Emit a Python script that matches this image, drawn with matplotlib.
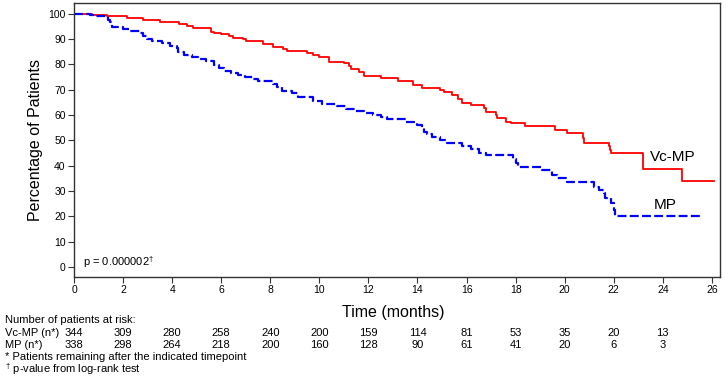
import matplotlib
matplotlib.use('Agg')
import matplotlib.pyplot as plt
import matplotlib.transforms as mtransforms

plt.rcParams['font.family'] = ['Liberation Sans', 'DejaVu Sans']
plt.rcParams['mathtext.fontset'] = 'custom'
plt.rcParams['mathtext.rm'] = 'Liberation Sans'

# Vc-MP arm (step curve, % of patients)
t_vcmp = [0, 0.72, 1.33, 2.15, 2.8, 3.5, 4.3, 4.6, 4.85, 5.6, 5.7, 6.0, 6.3, 6.5,
          6.9, 7.0, 7.7, 8.1, 8.5, 8.7, 9.5, 9.75, 10.0, 10.4, 11.0, 11.2, 11.3,
          11.6, 11.8, 12.5, 13.2, 13.8, 14.2, 14.9, 15.1, 15.4, 15.65, 15.8, 16.2,
          16.7, 16.8, 17.2, 17.25, 17.6, 17.8, 18.4, 19.6, 20.1, 20.75, 20.8,
          21.8, 21.85, 21.9, 23.2, 24.8, 26.1]
s_vcmp = [100, 99.5, 99.2, 98.4, 97.6, 96.8, 96.0, 95.3, 94.5, 93.0, 92.4, 92.0, 91.3, 90.4,
          89.9, 89.1, 88.1, 87.1, 86.3, 85.4, 84.7, 83.7, 83.1, 81.0, 80.6, 79.3, 78.3,
          77.2, 75.5, 74.6, 73.3, 71.7, 70.9, 70.0, 69.0, 68.1, 66.3, 64.9, 64.0,
          62.7, 61.4, 60.1, 58.8, 57.4, 56.8, 55.5, 54.2, 52.8, 50.8, 48.9,
          47.6, 46.2, 44.9, 38.6, 34.0, 34.0]

# MP arm
t_mp = [0, 0.65, 0.86, 1.4, 1.47, 1.53, 2.0, 2.28, 2.7, 2.82, 2.96, 3.17, 3.57, 3.9,
        4.18, 4.25, 4.5, 4.8, 5.07, 5.4, 5.7, 5.9, 6.1, 6.4, 6.7, 6.97, 7.3, 7.5,
        8.1, 8.26, 8.46, 8.87, 9.14, 9.75, 10.1, 10.7, 11.1, 11.45, 11.8, 12.2,
        12.5, 12.75, 13.55, 14.0, 14.2, 14.25, 14.4, 14.6, 14.9, 15.2, 15.8, 16.2,
        16.5, 16.8, 17.9, 18.0, 18.1, 19.06, 19.5, 19.7, 20.1, 21.2, 21.4, 21.6,
        21.65, 21.9, 22.0, 22.05, 25.6]
s_mp = [100, 99.6, 99.2, 97.6, 96.6, 95.0, 94.1, 93.3, 92.6, 91.4, 90.1, 89.1, 88.4, 87.5,
        86.4, 85.1, 83.8, 83.1, 82.2, 81.4, 79.8, 78.8, 77.5, 76.6, 75.9, 75.2, 74.2, 73.3,
        72.3, 71.0, 69.7, 68.6, 67.3, 65.6, 64.4, 63.4, 62.4, 61.7, 60.7, 59.9,
        59.1, 58.3, 57.4, 56.1, 54.8, 53.5, 52.6, 51.3, 50.2, 48.9, 47.8, 46.5,
        45.2, 44.3, 42.6, 41.0, 39.4, 38.3, 36.4, 35.1, 33.7, 31.7, 30.4, 29.1,
        27.2, 25.1, 22.5, 20.3, 20.3]

risk_times = [0, 2, 4, 6, 8, 10, 12, 14, 16, 18, 20, 22, 24]
risk_vcmp = [344, 309, 280, 258, 240, 200, 159, 114, 81, 53, 35, 20, 13]
risk_mp = [338, 298, 264, 218, 200, 160, 128, 90, 61, 41, 20, 6, 3]

fig = plt.figure(figsize=(7.28, 3.9), dpi=100)
ax = fig.add_axes([74/728, 1-277/390, 646/728, 274/390])

ax.step(t_vcmp, s_vcmp, where='post', color='#ff0000', lw=1.3)
ax.step(t_mp, s_mp, where='post', color='#0000ff', lw=1.6, dashes=(4, 1.5))

ax.set_xlim(0, 26.33)
ax.set_ylim(-4, 104.3)
ax.set_xticks(range(0, 27, 2))
ax.set_yticks(range(0, 101, 10))
ax.tick_params(direction='out', length=4, width=0.8, labelsize=7.5, pad=2,
               color='#333333')
for sp in ax.spines.values():
    sp.set_color('#333333')
    sp.set_linewidth(1.0)

ax.set_ylabel('Percentage of Patients', fontsize=11.5)
ax.yaxis.set_label_coords(-0.048, 0.5)

ax.text(24.4, 43.5, 'Vc-MP', fontsize=11, ha='center', va='center')
ax.text(24.1, 24.5, 'MP', fontsize=11, ha='center', va='center')
ax.text(0.37, 1.8, r'p = 0.000002$^{\dagger}$', fontsize=8, ha='left', va='center')

fig.text(393/728, 1-313/390, 'Time (months)', fontsize=11.5, ha='center', va='center')

fs = 8
fig.text(5/728, 1-320/390, 'Number of patients at risk:', fontsize=fs, va='center')
fig.text(5/728, 1-333/390, 'Vc-MP (n*)', fontsize=fs, va='center')
fig.text(5/728, 1-345/390, 'MP (n*)', fontsize=fs, va='center')
trans = mtransforms.blended_transform_factory(ax.transData, fig.transFigure)
for t, a, b in zip(risk_times, risk_vcmp, risk_mp):
    fig.text(t, 1-333/390, str(a), fontsize=fs, ha='center', va='center', transform=trans)
    fig.text(t, 1-345/390, str(b), fontsize=fs, ha='center', va='center', transform=trans)
fig.text(5/728, 1-357/390, '* Patients remaining after the indicated timepoint',
         fontsize=fs, va='center')
fig.text(5/728, 1-369/390, r'$^{\dagger}$ p-value from log-rank test', fontsize=fs, va='center')

fig.savefig('out.png', dpi=100)
